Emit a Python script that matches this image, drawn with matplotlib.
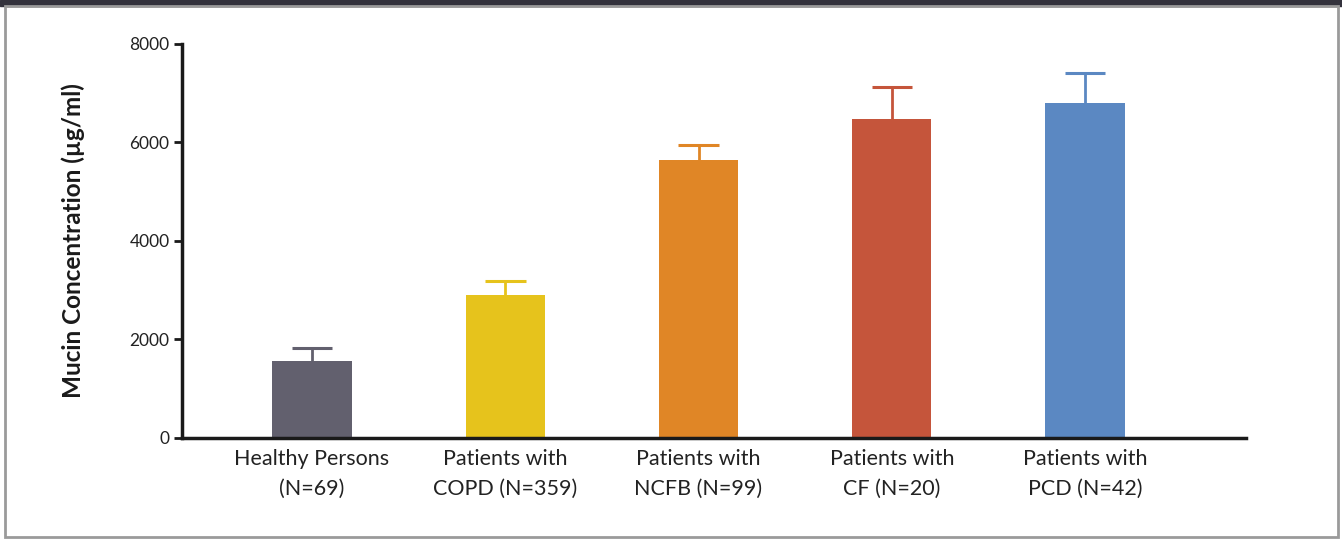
import matplotlib
matplotlib.use('Agg')
import matplotlib.pyplot as plt
from matplotlib.patches import Rectangle

# mucin concentration per group, mean and upper error
groups = ['Healthy Persons\n(N=69)', 'Patients with\nCOPD (N=359)',
          'Patients with\nNCFB (N=99)', 'Patients with\nCF (N=20)',
          'Patients with\nPCD (N=42)']
means = [1560, 2900, 5650, 6480, 6800]
errors = [270, 290, 300, 650, 610]
colors = ['#62606e', '#e6c31c', '#e08626', '#c5553b', '#5b88c2']
y_ticks = [0, 2000, 4000, 6000, 8000]

plt.rcParams['font.family'] = ['Lato', 'DejaVu Sans']

fig = plt.figure(figsize=(13.42, 5.39), dpi=100)
ax = fig.add_axes([0.1356, 0.1874, 0.7929, 0.731])

x = list(range(len(groups)))
ax.bar(x, means, width=0.41, color=colors, zorder=2)
# one-sided error bars: stem from the bar top plus a cap
tops = [m + e for m, e in zip(means, errors)]
ax.vlines(x, means, tops, colors=colors, linewidth=2, zorder=1)
ax.hlines(tops, [xi - 0.105 for xi in x], [xi + 0.105 for xi in x],
          colors=colors, linewidth=2.2, zorder=1)

ax.set_xlim(-0.673, 4.833)
ax.set_ylim(0, 8000)
ax.set_yticks(y_ticks)
ax.set_yticklabels([str(t) for t in y_ticks], fontsize=12.5, color='#222222')
ax.set_xticks(x)
ax.set_xticklabels(groups, fontsize=15.5, color='#222222', linespacing=1.6)
ax.tick_params(axis='x', length=0, pad=8)
ax.tick_params(axis='y', length=6, width=2, color='#1a1a1a', pad=3)
ax.set_ylabel('Mucin Concentration (µg/ml)', fontsize=17.5, fontweight='bold',
              color='#1a1a1a', labelpad=32)

for side in ['top', 'right']:
    ax.spines[side].set_visible(False)
for side in ['left', 'bottom']:
    ax.spines[side].set_linewidth(2.5)
    ax.spines[side].set_color('#1a1a1a')

# panel frame: dark band on top, thin grey border elsewhere
fig.patches.append(Rectangle((0, 0.988), 1, 0.012, transform=fig.transFigure,
                             color='#33323c', zorder=0))
fig.patches.append(Rectangle((0.0037, 0.004), 0.9933, 0.985, transform=fig.transFigure,
                             fill=False, edgecolor='#9a9a9a', linewidth=2, zorder=0))

fig.savefig('out.png', dpi=100)
